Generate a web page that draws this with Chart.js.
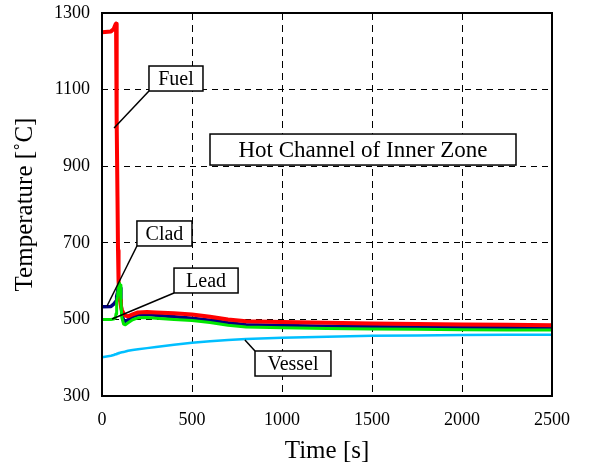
<!DOCTYPE html>
<html>
<head>
<meta charset="utf-8">
<script src="https://cdn.jsdelivr.net/npm/chart.js@4"></script>
<style>
  html, body { margin: 0; padding: 0; background: #ffffff; }
  #wrap { width: 592px; height: 469px; }
</style>
</head>
<body>
<div id="wrap"><canvas id="c" width="592" height="469"></canvas></div>
<script>
// ---- data ----
const timeS = [0, 50, 65, 75, 78, 80, 83, 86, 89, 92, 96, 100, 105, 110, 120, 130, 145, 170, 200, 250, 300, 400, 500, 600, 700, 800, 1000, 1250, 1500, 1750, 2000, 2250, 2500];
const fuelTemp   = [1250, 1252, 1258, 1270, 1272, 1220, 1020, 820, 680, 600, 565, 550, 535, 525, 515, 510, 508, 513, 518, 519, 518, 516, 513, 507, 500, 495, 493, 491, 489, 488, 487, 486, 485];
const cladTemp   = [533, 534, 540, 546, 548, 552, 560, 570, 580, 586, 588, 582, 550, 515, 498, 495, 499, 507, 512, 513, 511, 507, 503, 498, 491, 486, 484, 482, 481, 480, 479, 478, 478];
const leadTemp   = [500, 500, 501, 505, 515, 525, 545, 560, 575, 588, 595, 590, 550, 505, 488, 486, 491, 499, 504, 505, 503, 500, 497, 492, 485, 480, 478, 476, 475, 474, 473, 472, 472];
const vesselTemp = [401, 405, 407, 409, 409, 410, 410, 411, 411, 412, 412, 413, 413, 414, 415, 416, 418, 420, 422, 425, 428, 434, 439, 443, 446, 449, 452, 455, 457, 458, 459, 460, 460];

const xTicks = [0, 500, 1000, 1500, 2000, 2500];
const yTicks = [300, 500, 700, 900, 1100, 1300];
const xTitle = 'Time [s]';
const yTitle = 'Temperature [˚C]';
const chartLabel = 'Hot Channel of Inner Zone';

// annotation boxes (data coordinates) and leader lines
const labelBoxes = [
  { text: 'Fuel',   x1: 261, x2: 561,  y1: 1161.6, y2: 1096.3, size: 20, lead: [261, 1096.3, 67, 1000] },
  { text: 'Clad',   x1: 194, x2: 500,  y1: 757,    y2: 691.7,  size: 20, lead: [194, 691.7, 28, 535] },
  { text: 'Lead',   x1: 400, x2: 756,  y1: 634,    y2: 569,    size: 20, lead: [400, 569, 56, 501] },
  { text: 'Vessel', x1: 850, x2: 1272, y1: 417.5,  y2: 352.2,  size: 20, lead: [850, 417.5, 794, 446.2] },
  { text: chartLabel, x1: 600, x2: 2300, y1: 984, y2: 903, size: 23, lead: null }
];

const serif = "'Liberation Serif', 'Times New Roman', serif";

function pts(vals) { return timeS.map((t, i) => ({ x: t, y: vals[i] })); }

const annotPlugin = {
  id: 'annot',
  afterDatasetsDraw(chart) {
    const { ctx, scales: { x, y } } = chart;
    ctx.save();
    ctx.strokeStyle = '#000';
    ctx.lineWidth = 1.5;
    labelBoxes.forEach(b => {
      if (b.lead) {
        ctx.beginPath();
        ctx.moveTo(x.getPixelForValue(b.lead[0]), y.getPixelForValue(b.lead[1]));
        ctx.lineTo(x.getPixelForValue(b.lead[2]), y.getPixelForValue(b.lead[3]));
        ctx.stroke();
      }
    });
    labelBoxes.forEach(b => {
      const px1 = x.getPixelForValue(b.x1), px2 = x.getPixelForValue(b.x2);
      const py1 = y.getPixelForValue(b.y1), py2 = y.getPixelForValue(b.y2);
      ctx.fillStyle = '#fff';
      ctx.fillRect(px1, py1, px2 - px1, py2 - py1);
      ctx.strokeRect(px1, py1, px2 - px1, py2 - py1);
      ctx.fillStyle = '#000';
      ctx.font = b.size + 'px ' + serif;
      ctx.textAlign = 'center';
      ctx.textBaseline = 'middle';
      ctx.fillText(b.text, (px1 + px2) / 2, (py1 + py2) / 2 + 1);
    });
    ctx.restore();
  },
  afterDraw(chart) {
    const { ctx, chartArea: a } = chart;
    ctx.save();
    ctx.strokeStyle = '#000';
    ctx.lineWidth = 2;
    ctx.strokeRect(a.left, a.top, a.right - a.left, a.bottom - a.top);
    ctx.restore();
  }
};

new Chart(document.getElementById('c'), {
  type: 'line',
  data: {
    datasets: [
      { label: 'Lead', data: pts(leadTemp), borderColor: '#00e600', borderWidth: 3, order: 0 },
      { label: 'Fuel', data: pts(fuelTemp), borderColor: '#ff0000', borderWidth: 4, order: 1 },
      { label: 'Clad', data: pts(cladTemp), borderColor: '#000080', borderWidth: 3.5, order: 2 },
      { label: 'Vessel', data: pts(vesselTemp), borderColor: '#00bfff', borderWidth: 2.5, order: 3 }
    ]
  },
  options: {
    responsive: false,
    animation: false,
    devicePixelRatio: 1,
    elements: { point: { radius: 0 }, line: { tension: 0, fill: false, borderCapStyle: 'round', borderJoinStyle: 'round' } },
    layout: { padding: { top: 13, right: 40, left: 0, bottom: 0 } },
    plugins: { legend: { display: false }, tooltip: { enabled: false } },
    scales: {
      x: {
        type: 'linear', min: 0, max: 2500,
        afterBuildTicks: s => { s.ticks = xTicks.map(v => ({ value: v })); },
        afterFit: s => { s.height = 73; s.paddingLeft = 0; s.paddingRight = 0; },
        ticks: { color: '#000', font: { family: serif, size: 18 }, padding: 13, maxRotation: 0, callback: v => String(v) },
        grid: {
          color: ctx => (ctx.tick && (ctx.tick.value === 0 || ctx.tick.value === 2500)) ? 'rgba(0,0,0,0)' : '#000',
          lineWidth: 1, drawTicks: false
        },
        border: { display: false, dash: [7, 5] },
        title: { display: true, text: xTitle, color: '#000', font: { family: serif, size: 25, lineHeight: 1.2 }, padding: { top: 0, bottom: 3 } }
      },
      y: {
        type: 'linear', min: 300, max: 1300,
        afterBuildTicks: s => { s.ticks = yTicks.map(v => ({ value: v })); },
        afterFit: s => { s.width = 102; s.paddingTop = 0; s.paddingBottom = 0; },
        ticks: { color: '#000', font: { family: serif, size: 18 }, padding: 12, callback: v => String(v) },
        grid: {
          color: ctx => (ctx.tick && (ctx.tick.value === 300 || ctx.tick.value === 1300)) ? 'rgba(0,0,0,0)' : '#000',
          lineWidth: 1, drawTicks: false
        },
        border: { display: false, dash: [6, 5] },
        title: { display: true, text: yTitle, color: '#000', font: { family: serif, size: 25, lineHeight: 1.2 }, padding: { top: 10, bottom: 0 } }
      }
    }
  },
  plugins: [annotPlugin]
});
</script>
</body>
</html>
